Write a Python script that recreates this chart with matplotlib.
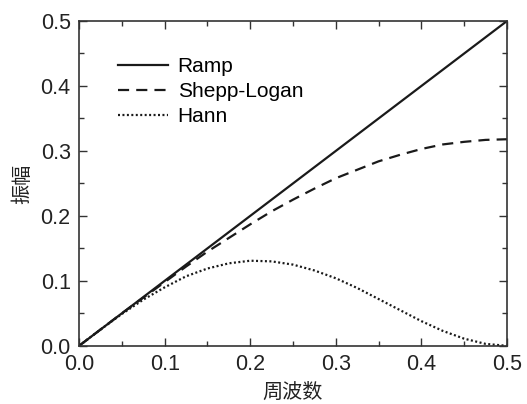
#!/usr/bin/env python3

import numpy as np
import matplotlib
matplotlib.use("Agg")
import matplotlib.pyplot as plt
from matplotlib.ticker import MultipleLocator

##
# Values
##
freq = [0.0, 0.025, 0.05, 0.075, 0.1, 0.125, 0.15, 0.175, 0.2, 0.225, 0.25,
        0.275, 0.3, 0.325, 0.35, 0.375, 0.4, 0.425, 0.45, 0.475, 0.5]
ramp_x = [0.0, 0.5]
ramp_y = [0.0, 0.5]
shepp_logan = [0.0, 0.025, 0.050, 0.074, 0.098, 0.122, 0.145, 0.166, 0.187, 0.207, 0.225,
               0.242, 0.258, 0.271, 0.284, 0.294, 0.303, 0.310, 0.314, 0.317, 0.318]
hann = [0.0, 0.025, 0.049, 0.071, 0.090, 0.107, 0.119, 0.127, 0.131, 0.130, 0.125,
        0.116, 0.104, 0.089, 0.072, 0.055, 0.038, 0.023, 0.011, 0.003, 0.0]

labels = ["Ramp", "Shepp-Logan", "Hann"]

plt.rcParams['font.family'] = ['Liberation Sans', 'Noto Sans CJK SC', 'DejaVu Sans']
cjk = ['Noto Sans CJK SC', 'DejaVu Sans']

fig = plt.figure(figsize=(5.27, 4.04), dpi=100)
ax = fig.add_axes([0.150, 0.144, 0.812, 0.804])

ax.plot(ramp_x, ramp_y, color='#1a1a1a', lw=1.6, ls='-', label=labels[0])
ax.plot(freq, shepp_logan, color='#1a1a1a', lw=1.6, ls=(0, (5, 3.2)), label=labels[1])
ax.plot(freq, hann, color='#1a1a1a', lw=1.6, ls=(0, (0.9, 1.1)), label=labels[2])

ax.set_xlim(0, 0.5)
ax.set_ylim(0, 0.5)
ax.xaxis.set_major_locator(MultipleLocator(0.1))
ax.xaxis.set_minor_locator(MultipleLocator(0.05))
ax.yaxis.set_major_locator(MultipleLocator(0.1))
ax.yaxis.set_minor_locator(MultipleLocator(0.05))
ax.xaxis.set_major_formatter(matplotlib.ticker.FormatStrFormatter('%.1f'))
ax.yaxis.set_major_formatter(matplotlib.ticker.FormatStrFormatter('%.1f'))

ax.tick_params(which='both', direction='in', top=True, right=True,
               width=1.0, color='#333333', labelsize=15.5, labelcolor='#222222')
ax.tick_params(which='major', length=6, pad=6)
ax.tick_params(which='minor', length=3.5)
for s in ax.spines.values():
    s.set_linewidth(1.2)
    s.set_color('#333333')

ax.set_xlabel("周波数", family=cjk, fontsize=14.5, color='#222222', labelpad=5)
ax.set_ylabel("振幅", family=cjk, fontsize=14.5, color='#222222', labelpad=5)

ax.legend(loc='upper left', bbox_to_anchor=(0.072, 0.915), frameon=False,
          fontsize=15, handlelength=2.4, handletextpad=0.45, labelspacing=0.3,
          borderaxespad=0)

fig.savefig("out.png", dpi=100)
